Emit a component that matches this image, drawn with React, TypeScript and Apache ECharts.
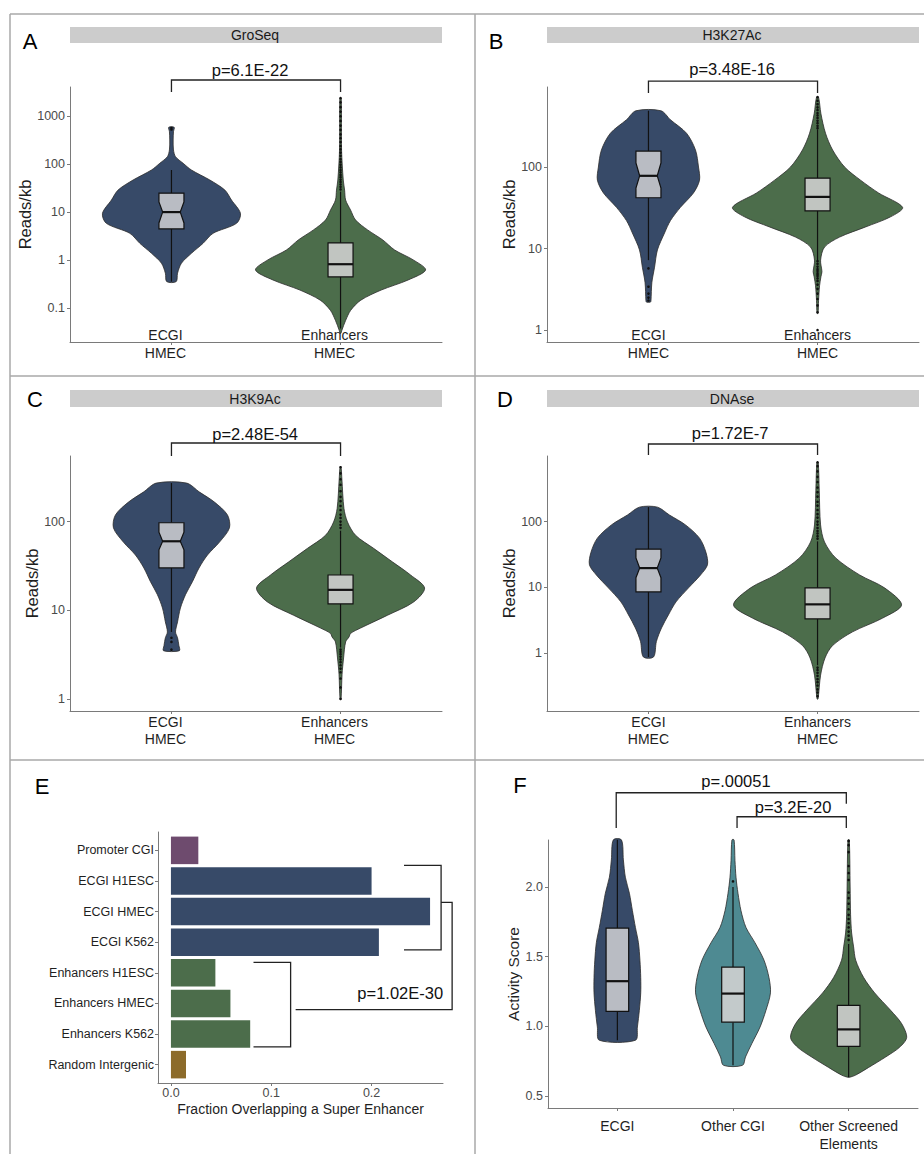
import React, { useEffect, useRef } from "react";
import * as echarts from "echarts";

// ---------------- categories & ticks ----------------
const violinCategories = ["ECGI\nHMEC", "Enhancers\nHMEC"];
const activityCategories = ["ECGI", "Other CGI", "Other Screened\nElements"];
const overlapCategories = [
  "Promoter CGI",
  "ECGI H1ESC",
  "ECGI HMEC",
  "ECGI K562",
  "Enhancers H1ESC",
  "Enhancers HMEC",
  "Enhancers K562",
  "Random Intergenic",
];
const overlapValues = [0.0273, 0.2, 0.2583, 0.2073, 0.0443, 0.0593, 0.079, 0.015];

const groseqTicks = [0.1, 1, 10, 100, 1000];
const h3k27Ticks = [1, 10, 100];
const h3k9Ticks = [1, 10, 100];
const dnaseTicks = [1, 10, 100, 1000];
const activityTicks = [0.5, 1.0, 1.5, 2.0];
const overlapTicks = [0, 0.1, 0.2];

// ---------------- violin profiles: [value, half width in category units] ----------------
const groseqEcgiProfile = [
  [590, 0.016], [478, 0.012], [321, 0.01], [199, 0.012], [144, 0.024], [105, 0.069], [76, 0.118],
  [47, 0.227], [29, 0.316], [18, 0.355], [9.5, 0.408], [5.9, 0.385], [3.65, 0.246], [2.26, 0.187],
  [1.4, 0.118], [0.87, 0.059], [0.54, 0.036], [0.36, 0.028],
];
const groseqEcgiBox = [0.36, 4.5, 10.1, 25, 76];
const groseqEcgiNotch = [6.0, 16.4];
const groseqEcgiOutliers = [530, 570];

const groseqEnhProfile = [
  [2400, 0.004], [199, 0.006], [47, 0.016], [29, 0.024], [18, 0.03], [11.2, 0.059], [6.9, 0.089],
  [4.3, 0.16], [2.65, 0.25], [1.64, 0.32], [1.02, 0.43], [0.63, 0.503], [0.39, 0.4], [0.24, 0.24],
  [0.148, 0.12], [0.091, 0.06], [0.056, 0.03], [0.035, 0.008], [0.03, 0.002],
];
const groseqEnhBox = [0.038, 0.45, 0.83, 2.3, 27];
const groseqEnhOutliers = [
  30, 34, 38, 43, 48, 54, 60, 68, 76, 86, 98, 112, 128, 150, 175, 205, 240, 290, 350, 420, 520, 640,
  800, 1000, 1250, 1550, 1950, 2400,
];

const h3k27EcgiProfile = [
  [490, 0.074], [380, 0.13], [260, 0.225], [162, 0.278], [100, 0.296], [69, 0.302], [48, 0.266],
  [32, 0.189], [22, 0.13], [15.5, 0.095], [9.6, 0.053], [5.9, 0.036], [3.8, 0.02], [2.3, 0.015],
  [2.2, 0.012],
];
const h3k27EcgiBox = [7.2, 42, 78, 157, 490];
const h3k27EcgiNotch = [55, 112];
const h3k27EcgiOutliers = [5.7, 3.4, 2.8, 2.5, 2.3];

const h3k27EnhProfile = [
  [720, 0.006], [450, 0.02], [260, 0.047], [162, 0.089], [100, 0.16], [69, 0.254], [48, 0.361],
  [32, 0.503], [24.5, 0.432], [18.4, 0.284], [13.8, 0.13], [10.4, 0.041], [7.2, 0.018], [5.2, 0.026],
  [4.5, 0.02], [3.5, 0.012], [2.3, 0.006], [1.6, 0.003],
];
const h3k27EnhBox = [7.2, 29, 43, 73, 290];
const h3k27EnhOutliers = [
  300, 320, 345, 370, 400, 430, 460, 500, 540, 590, 650, 720, 7.0, 6.5, 6.0, 5.6, 5.3, 5.0, 4.8, 4.6,
  4.3, 4.0, 3.6, 3.2, 2.8, 2.4, 2.0, 1.65, 1.0,
];

const h3k9EcgiProfile = [
  [272, 0.089], [215, 0.166], [166, 0.254], [119, 0.331], [85, 0.343], [58.7, 0.284], [42, 0.213],
  [30, 0.163], [21, 0.124], [15, 0.083], [10.6, 0.053], [7.4, 0.036], [5.7, 0.024], [4.9, 0.036],
  [4.0, 0.044], [3.5, 0.047],
];
const h3k9EcgiBox = [5.7, 30, 60, 97, 272];
const h3k9EcgiNotch = [48, 76];
const h3k9EcgiOutliers = [4.9, 4.4, 3.6];

const h3k9EnhProfile = [
  [410, 0.003], [300, 0.008], [141, 0.02], [99, 0.041], [70, 0.089], [50, 0.195], [35, 0.308],
  [25, 0.414], [17.8, 0.497], [12.4, 0.432], [8.8, 0.278], [6.3, 0.118], [5.5, 0.06], [5.0, 0.05],
  [4.4, 0.03], [2.9, 0.018], [1.9, 0.009], [1.0, 0.003],
];
const h3k9EnhBox = [3.8, 11.8, 17, 25, 79];
const h3k9EnhOutliers = [
  85, 92, 100, 110, 120, 135, 150, 170, 190, 220, 260, 300, 350, 410, 3.6, 3.4, 3.2, 3.0, 2.8, 2.6,
  2.4, 2.2, 2.0, 1.7, 1.35, 1.0,
];

const dnaseEcgiProfile = [
  [166, 0.053], [126, 0.124], [89, 0.219], [56, 0.302], [34, 0.34], [22, 0.349], [15.4, 0.308],
  [9.8, 0.237], [6, 0.163], [3.8, 0.118], [2.4, 0.077], [1.5, 0.047], [0.87, 0.03],
];
const dnaseEcgiBox = [0.87, 8.5, 19.6, 38, 166];
const dnaseEcgiNotch = [14, 28];
const dnaseEcgiOutliers: number[] = [];

const dnaseEnhProfile = [
  [800, 0.004], [300, 0.01], [89, 0.018], [49, 0.041], [28, 0.107], [15.4, 0.249], [9.8, 0.396],
  [5.4, 0.497], [3.4, 0.385], [2.1, 0.207], [1.3, 0.089], [0.84, 0.044], [0.46, 0.018], [0.2, 0.003],
];
const dnaseEnhBox = [0.65, 3.3, 5.5, 9.8, 50];
const dnaseEnhOutliers = [
  55, 60, 66, 72, 80, 90, 100, 115, 130, 150, 175, 200, 240, 280, 330, 400, 480, 580, 700, 800, 0.6,
  0.55, 0.5, 0.45, 0.4, 0.36, 0.32, 0.28, 0.25, 0.22, 0.2,
];

const activityEcgiProfile = [
  [2.338, 0.035], [2.194, 0.052], [2.07, 0.069], [1.955, 0.104], [1.83, 0.13], [1.71, 0.156],
  [1.6, 0.182], [1.475, 0.195], [1.35, 0.202], [1.24, 0.202], [1.115, 0.19], [0.995, 0.173],
  [0.9, 0.156],
];
const activityEcgiBox = [0.9, 1.108, 1.324, 1.705, 2.338];
const activityEcgiOutliers: number[] = [];

const activityOcgiProfile = [
  [2.338, 0.009], [2.19, 0.017], [2.07, 0.026], [1.955, 0.043], [1.83, 0.069], [1.71, 0.112],
  [1.6, 0.19], [1.475, 0.268], [1.35, 0.311], [1.24, 0.324], [1.115, 0.285], [0.995, 0.234],
  [0.878, 0.164], [0.78, 0.108], [0.72, 0.082],
];
const activityOcgiBox = [0.72, 1.03, 1.235, 1.425, 2.0];
const activityOcgiOutliers = [2.04];

const activityOseProfile = [
  [2.338, 0.006], [2.0, 0.013], [1.8, 0.017], [1.67, 0.026], [1.57, 0.043], [1.475, 0.061],
  [1.35, 0.13], [1.24, 0.225], [1.115, 0.363], [1.02, 0.458], [0.92, 0.502], [0.85, 0.441],
  [0.78, 0.32], [0.705, 0.173], [0.65, 0.061], [0.635, 0.01],
];
const activityOseBox = [0.635, 0.856, 0.978, 1.15, 1.59];
const activityOseOutliers = [
  1.62, 1.65, 1.68, 1.71, 1.74, 1.77, 1.8, 1.84, 1.88, 1.92, 1.96, 2.0, 2.05, 2.1, 2.15, 2.2, 2.25,
  2.3, 2.33,
];

// ---------------- significance brackets (data coordinates) ----------------
const groseqBrackets = [[[1, 3200], [1, 5700], [2, 5700], [2, 3200]]];
const groseqLabels = [{ pos: [1.465, 9220], text: "p=6.1E-22" }];
const h3k27Brackets = [[[1, 809], [1, 1135], [2, 1135], [2, 809]]];
const h3k27Labels = [{ pos: [1.495, 1580], text: "p=3.48E-16" }];
const h3k9Brackets = [[[1, 550], [1, 769], [2, 769], [2, 550]]];
const h3k9Labels = [{ pos: [1.495, 964], text: "p=2.48E-54" }];
const dnaseBrackets = [[[1, 1032], [1, 1518], [2, 1518], [2, 1032]]];
const dnaseLabels = [{ pos: [1.483, 2208], text: "p=1.72E-7" }];
const activityBrackets = [
  [[0.99, 2.424], [0.99, 2.676], [2.98, 2.676], [2.98, 2.597]],
  [[2.035, 2.424], [2.035, 2.504], [2.98, 2.504], [2.98, 2.424]],
];
const activityLabels = [
  { pos: [2.026, 2.761], text: "p=.00051" },
  { pos: [2.519, 2.574], text: "p=3.2E-20" },
];
const overlapBrackets = [
  [[0.2323, 1.49], [0.2693, 1.49], [0.2693, 4.25], [0.2323, 4.25]],
  [[0.0823, 4.66], [0.1193, 4.66], [0.1193, 7.42], [0.0823, 7.42]],
  [[0.2693, 2.7], [0.2803, 2.7], [0.2803, 6.2], [0.1243, 6.2]],
];
const overlapLabels = [{ pos: [0.2713, 5.65], text: "p=1.02E-30", align: "right" }];

// ---------------- styles ----------------
const W = 924;
const H = 1154;
const FONT = "'Liberation Sans', Arial, Helvetica, sans-serif";
const NAVY = "#374a68";
const GREEN = "#4c6d4b";
const TEAL = "#4e8a92";
const BOX_NAVY = "#b9bcc3";
const BOX_GREEN = "#c1c5c1";
const BOX_TEAL = "#c3cacb";
const overlapColors = [
  "#6e4b6e", NAVY, NAVY, NAVY, GREEN, GREEN, GREEN, "#8c6b2a",
];
const AXIS_COLOR = "#7a7a7a";
const TICK_TEXT = "#4a4a4a";

interface ViolinDef {
  x: number;
  profile: number[][];
  box: number[];
  notch: number[] | null;
  outliers: number[];
  fill: string;
  boxFill: string;
}

function fmtNum(v: number) {
  return String(Number(Number(v).toPrecision(4)));
}

function violinSeries(gi: number, violins: ViolinDef[], boxHalf: number, notchHalf: number) {
  return {
    type: "custom",
    xAxisIndex: gi,
    yAxisIndex: gi,
    z: 3,
    silent: true,
    clip: false,
    data: violins.map((v) => [v.x, v.box[2]]),
    renderItem: (params: any, api: any) => {
      const v = violins[params.dataIndex];
      const pt = (dx: number, val: number) => api.coord([v.x + dx, val]);
      const right = v.profile.map((p) => pt(p[1], p[0]));
      const left = v.profile
        .slice()
        .reverse()
        .map((p) => pt(-p[1], p[0]));
      const [lo, q1, med, q3, hi] = v.box;
      const children: any[] = [];
      children.push({
        type: "polygon",
        shape: { points: right.concat(left), smooth: 0.3 },
        style: { fill: v.fill, stroke: "#2b2b2b", lineWidth: 0.8 },
      });
      const seg = (a: number[], b: number[], w: number) => ({
        type: "line",
        shape: { x1: a[0], y1: a[1], x2: b[0], y2: b[1] },
        style: { stroke: "#111", lineWidth: w },
      });
      children.push(seg(pt(0, q3), pt(0, hi), 1.2));
      children.push(seg(pt(0, q1), pt(0, lo), 1.2));
      let boxPts: number[][];
      if (v.notch) {
        const [nl, nh] = v.notch;
        boxPts = [
          pt(-boxHalf, q1), pt(-boxHalf, nl), pt(-notchHalf, med), pt(-boxHalf, nh), pt(-boxHalf, q3),
          pt(boxHalf, q3), pt(boxHalf, nh), pt(notchHalf, med), pt(boxHalf, nl), pt(boxHalf, q1),
        ];
      } else {
        boxPts = [pt(-boxHalf, q1), pt(-boxHalf, q3), pt(boxHalf, q3), pt(boxHalf, q1)];
      }
      children.push({
        type: "polygon",
        shape: { points: boxPts },
        style: { fill: v.boxFill, stroke: "#111", lineWidth: 1.2 },
      });
      const mh = v.notch ? notchHalf : boxHalf;
      children.push(seg(pt(-mh, med), pt(mh, med), 2.2));
      v.outliers.forEach((o) => {
        const c = pt(0, o);
        children.push({ type: "circle", shape: { cx: c[0], cy: c[1], r: 1.3 }, style: { fill: "#111" } });
      });
      return { type: "group", children };
    },
  };
}

function bracketSeries(gi: number, paths: number[][][]) {
  return {
    type: "custom",
    xAxisIndex: gi,
    yAxisIndex: gi,
    z: 4,
    silent: true,
    clip: false,
    data: paths.map((p) => p[1]),
    renderItem: (params: any, api: any) => ({
      type: "polyline",
      shape: { points: paths[params.dataIndex].map((p) => api.coord(p)) },
      style: { stroke: "#222", lineWidth: 1.3, fill: "none" },
    }),
  };
}

function labelSeries(gi: number, labels: any[]) {
  return {
    type: "custom",
    xAxisIndex: gi,
    yAxisIndex: gi,
    z: 4,
    silent: true,
    clip: false,
    data: labels.map((l) => l.pos),
    renderItem: (params: any, api: any) => {
      const l = labels[params.dataIndex];
      const c = api.coord(l.pos);
      return {
        type: "text",
        x: c[0],
        y: c[1],
        style: {
          text: l.text,
          fontSize: 16.5,
          fontFamily: FONT,
          fill: "#111",
          align: l.align || "center",
          verticalAlign: "middle",
        },
      };
    },
  };
}

function catXAxis(gi: number, cats: string[], max: number, margin: number, shift: number, lineHeight: number) {
  const vals = cats.map((_, i) => i + 1);
  return {
    type: "value",
    gridIndex: gi,
    min: 0.4,
    max,
    axisLine: { show: true, onZero: false, lineStyle: { color: AXIS_COLOR, width: 1 } },
    axisTick: { show: true, customValues: vals, length: 3, lineStyle: { color: AXIS_COLOR } },
    axisLabel: {
      show: true,
      customValues: vals,
      formatter: (v: number) => cats[Math.round(v) - 1] || "",
      margin,
      lineHeight,
      fontSize: 14,
      color: "#1f1f1f",
      fontFamily: FONT,
      padding: [0, shift, 0, 0],
    },
    splitLine: { show: false },
  };
}

function logYAxis(gi: number, min: number, max: number, ticks: number[]) {
  return {
    type: "log",
    logBase: 10,
    gridIndex: gi,
    min,
    max,
    name: "Reads/kb",
    nameLocation: "middle",
    nameGap: 26,
    nameTextStyle: { fontSize: 16.5, color: "#1f1f1f", fontFamily: FONT },
    axisLine: { show: true, onZero: false, lineStyle: { color: AXIS_COLOR, width: 1 } },
    axisTick: { show: true, customValues: ticks, length: 3, lineStyle: { color: AXIS_COLOR } },
    axisLabel: {
      show: true,
      customValues: ticks,
      formatter: (v: number) => fmtNum(v),
      margin: 5,
      fontSize: 12.5,
      color: TICK_TEXT,
      fontFamily: FONT,
    },
    splitLine: { show: false },
  };
}

function buildOption() {
  const grids = [
    { left: 70, top: 87, width: 372, height: 255 },
    { left: 547, top: 87, width: 372, height: 255 },
    { left: 70, top: 456, width: 372, height: 255 },
    { left: 547, top: 456, width: 372, height: 255 },
    { left: 158, top: 832, width: 285, height: 251 },
    { left: 548, top: 840, width: 370, height: 268 },
  ];

  const pair = (
    ep: number[][], eb: number[], en: number[] | null, eo: number[],
    hp: number[][], hb: number[], ho: number[]
  ): ViolinDef[] => [
    { x: 1, profile: ep, box: eb, notch: en, outliers: eo, fill: NAVY, boxFill: BOX_NAVY },
    { x: 2, profile: hp, box: hb, notch: null, outliers: ho, fill: GREEN, boxFill: BOX_GREEN },
  ];

  const activityViolins: ViolinDef[] = [
    { x: 1, profile: activityEcgiProfile, box: activityEcgiBox, notch: null, outliers: activityEcgiOutliers, fill: NAVY, boxFill: BOX_NAVY },
    { x: 2, profile: activityOcgiProfile, box: activityOcgiBox, notch: null, outliers: activityOcgiOutliers, fill: TEAL, boxFill: BOX_TEAL },
    { x: 3, profile: activityOseProfile, box: activityOseBox, notch: null, outliers: activityOseOutliers, fill: GREEN, boxFill: BOX_GREEN },
  ];

  const xAxis: any[] = [
    catXAxis(0, violinCategories, 2.6, -16, 12, 18),
    catXAxis(1, violinCategories, 2.6, -16, 0, 18),
    catXAxis(2, violinCategories, 2.6, 2, 12, 17),
    catXAxis(3, violinCategories, 2.6, 2, 0, 17),
    {
      type: "value",
      gridIndex: 4,
      min: -0.0129,
      max: 0.2712,
      name: "Fraction Overlapping a Super Enhancer",
      nameLocation: "middle",
      nameGap: 19,
      nameTextStyle: { fontSize: 14, color: "#1f1f1f", fontFamily: FONT },
      axisLine: { show: true, onZero: false, lineStyle: { color: AXIS_COLOR, width: 1 } },
      axisTick: { show: true, customValues: overlapTicks, length: 3, lineStyle: { color: AXIS_COLOR } },
      axisLabel: {
        show: true,
        customValues: overlapTicks,
        formatter: (v: number) => Number(v).toFixed(1),
        margin: 3,
        fontSize: 12.5,
        color: TICK_TEXT,
        fontFamily: FONT,
      },
      splitLine: { show: false },
    },
    catXAxis(5, activityCategories, 3.6, 9, 0, 18),
  ];

  const overlapRows = overlapCategories.map((_, i) => i + 1);
  const yAxis: any[] = [
    logYAxis(0, 0.0199, 4070, groseqTicks),
    logYAxis(1, 0.713, 959, h3k27Ticks),
    logYAxis(2, 0.732, 549, h3k9Ticks),
    logYAxis(3, 0.131, 996, dnaseTicks),
    {
      type: "value",
      gridIndex: 4,
      min: 0.4,
      max: 8.6,
      inverse: true,
      axisLine: { show: true, onZero: false, lineStyle: { color: AXIS_COLOR, width: 1 } },
      axisTick: { show: true, customValues: overlapRows, length: 3, lineStyle: { color: AXIS_COLOR } },
      axisLabel: {
        show: true,
        customValues: overlapRows,
        formatter: (v: number) => overlapCategories[Math.round(v) - 1] || "",
        margin: 4,
        fontSize: 12.5,
        color: "#1f1f1f",
        fontFamily: FONT,
      },
      splitLine: { show: false },
    },
    {
      type: "value",
      gridIndex: 5,
      min: 0.414,
      max: 2.337,
      name: "Activity Score",
      nameLocation: "middle",
      nameGap: 27,
      nameTextStyle: { fontSize: 15.5, color: "#1f1f1f", fontFamily: FONT },
      axisLine: { show: true, onZero: false, lineStyle: { color: AXIS_COLOR, width: 1 } },
      axisTick: { show: true, customValues: activityTicks, length: 3, lineStyle: { color: AXIS_COLOR } },
      axisLabel: {
        show: true,
        customValues: activityTicks,
        formatter: (v: number) => Number(v).toFixed(1),
        margin: 5,
        fontSize: 12.5,
        color: TICK_TEXT,
        fontFamily: FONT,
      },
      splitLine: { show: false },
    },
  ];

  const BH = 12.5 / 169;
  const NH = 8.8 / 169;
  const series: any[] = [
    violinSeries(0, pair(groseqEcgiProfile, groseqEcgiBox, groseqEcgiNotch, groseqEcgiOutliers, groseqEnhProfile, groseqEnhBox, groseqEnhOutliers), BH, NH),
    violinSeries(1, pair(h3k27EcgiProfile, h3k27EcgiBox, h3k27EcgiNotch, h3k27EcgiOutliers, h3k27EnhProfile, h3k27EnhBox, h3k27EnhOutliers), BH, NH),
    violinSeries(2, pair(h3k9EcgiProfile, h3k9EcgiBox, h3k9EcgiNotch, h3k9EcgiOutliers, h3k9EnhProfile, h3k9EnhBox, h3k9EnhOutliers), BH, NH),
    violinSeries(3, pair(dnaseEcgiProfile, dnaseEcgiBox, dnaseEcgiNotch, dnaseEcgiOutliers, dnaseEnhProfile, dnaseEnhBox, dnaseEnhOutliers), BH, NH),
    violinSeries(5, activityViolins, 11.3 / 115.6, 11.3 / 115.6),
    bracketSeries(0, groseqBrackets),
    bracketSeries(1, h3k27Brackets),
    bracketSeries(2, h3k9Brackets),
    bracketSeries(3, dnaseBrackets),
    bracketSeries(4, overlapBrackets),
    bracketSeries(5, activityBrackets),
    labelSeries(0, groseqLabels),
    labelSeries(1, h3k27Labels),
    labelSeries(2, h3k9Labels),
    labelSeries(3, dnaseLabels),
    labelSeries(4, overlapLabels),
    labelSeries(5, activityLabels),
    {
      type: "custom",
      xAxisIndex: 4,
      yAxisIndex: 4,
      z: 2,
      silent: true,
      data: overlapValues.map((v, i) => [v, i + 1]),
      renderItem: (params: any, api: any) => {
        const val = api.value(0);
        const row = api.value(1);
        const a = api.coord([0, row]);
        const b = api.coord([val, row]);
        const h = api.size([0, 0.9])[1];
        return {
          type: "rect",
          shape: { x: a[0], y: a[1] - h / 2, width: b[0] - a[0], height: h },
          style: { fill: overlapColors[params.dataIndex] },
        };
      },
    },
  ];

  const frame = (x1: number, y1: number, x2: number, y2: number) => ({
    type: "line",
    shape: { x1, y1, x2, y2 },
    style: { stroke: "#a8a8a8", lineWidth: 1.5 },
    silent: true,
  });
  const strip = (x: number, y: number, w: number, h: number, text: string) => [
    { type: "rect", shape: { x, y, width: w, height: h }, style: { fill: "#cccccc" }, silent: true },
    {
      type: "text",
      x: x + w / 2 - 1,
      y: y + h / 2,
      style: { text, fontSize: 14, fontFamily: FONT, fill: "#1a1a1a", align: "center", verticalAlign: "middle" },
      silent: true,
    },
  ];
  const letter = (x: number, y: number, text: string) => ({
    type: "text",
    x,
    y,
    style: { text, fontSize: 22, fontFamily: FONT, fill: "#000", align: "center", verticalAlign: "middle" },
    silent: true,
  });

  const graphic = [
    frame(10, 14, W, 14),
    frame(10, 14, 10, H),
    frame(475, 14, 475, H),
    frame(10, 376, W, 376),
    frame(10, 760, W, 760),
    ...strip(70, 27, 372, 16, "GroSeq"),
    ...strip(547, 27, 372, 16, "H3K27Ac"),
    ...strip(70, 390, 372, 17, "H3K9Ac"),
    ...strip(547, 390, 372, 17, "DNAse"),
    letter(30, 41, "A"),
    letter(496, 41, "B"),
    letter(35, 399, "C"),
    letter(505, 399, "D"),
    letter(42, 786, "E"),
    letter(520, 785, "F"),
  ];

  return {
    animation: false,
    backgroundColor: "#ffffff",
    textStyle: { fontFamily: FONT },
    grid: grids,
    xAxis,
    yAxis,
    series,
    graphic: { elements: graphic },
  };
}

export default function App() {
  const ref = useRef<HTMLDivElement>(null);
  useEffect(() => {
    document.body.style.margin = "0";
    const chart = echarts.init(ref.current as HTMLDivElement, undefined, { renderer: "svg", width: W, height: H });
    chart.setOption(buildOption() as any);
    return () => chart.dispose();
  }, []);
  return <div ref={ref} style={{ width: W, height: H }} />;
}
